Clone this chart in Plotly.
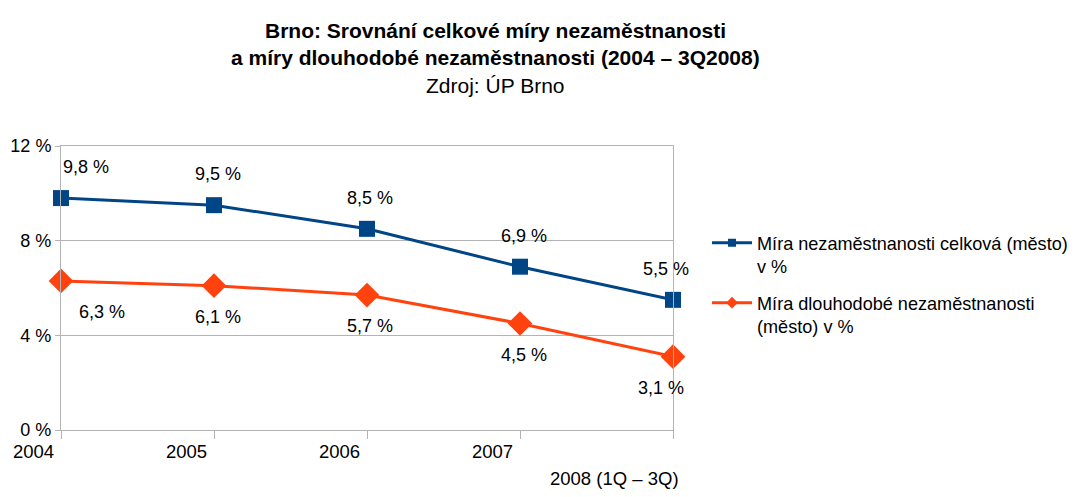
import plotly.graph_objects as go

# data
years = [0, 1, 2, 3, 4]
tick_labels = ["2004", "2005", "2006", "2007", "2008 (1Q – 3Q)"]
celkova = [9.8, 9.5, 8.5, 6.9, 5.5]
dlouhodoba = [6.3, 6.1, 5.7, 4.5, 3.1]
y_ticks = [0, 4, 8, 12]

name_celk = "Míra nezaměstnanosti celková (město)<br>v %"
name_dlouh = "Míra dlouhodobé nezaměstnanosti<br>(město) v %"

blue = "#004586"
orange = "#ff420e"
grid = "#b3b3b3"
font = "Liberation Sans, Arial, sans-serif"

fig = go.Figure()

# the lines themselves
fig.add_trace(go.Scatter(
    x=years, y=celkova, mode="lines+markers", showlegend=False,
    line=dict(color=blue, width=3),
    marker=dict(symbol="square", size=16, color=blue),
    cliponaxis=False,
))
fig.add_trace(go.Scatter(
    x=years, y=dlouhodoba, mode="lines+markers", showlegend=False,
    line=dict(color=orange, width=3),
    marker=dict(symbol="diamond", size=19, color=orange),
    cliponaxis=False,
))
# legend entries with small symbols
fig.add_trace(go.Scatter(
    x=[None], y=[None], name=name_celk, mode="lines+markers",
    legendgroup="a",
    line=dict(color=blue, width=3),
    marker=dict(symbol="square", size=8, color=blue),
))
fig.add_trace(go.Scatter(
    x=[None], y=[None], name=name_dlouh, mode="lines+markers",
    legendgroup="b",
    line=dict(color=orange, width=3),
    marker=dict(symbol="diamond", size=9, color=orange),
))

def fmt(v):
    return f"{v:.1f}".replace(".", ",") + " %"

# data labels
shift_top = [25, 4, 3, 4, -7]
shift_bot = [41, 4, 3, 4, -12]
for i, (a, b) in enumerate(zip(celkova, dlouhodoba)):
    fig.add_annotation(x=years[i], y=a, text=fmt(a), showarrow=False,
                       xshift=shift_top[i], yshift=31,
                       font=dict(size=18, color="black", family=font))
    fig.add_annotation(x=years[i], y=b, text=fmt(b), showarrow=False,
                       xshift=shift_bot[i], yshift=-31,
                       font=dict(size=18, color="black", family=font))

# x tick labels (last one staggered, as in the source chart)
lbl_dx = [-28, -28, -28, -28, -59]
lbl_y = [-0.12, -0.12, -0.12, -0.12, -0.215]
for i, t in enumerate(tick_labels):
    fig.add_annotation(x=years[i], y=lbl_y[i], yref="paper", text=t,
                       showarrow=False, xshift=lbl_dx[i],
                       font=dict(size=18.5, color="black", family=font))

# title
tx = 0.7105
for txt, ty in [("<b>Brno: Srovnání celkové míry nezaměstnanosti</b>", 1.454),
                ("<b>a míry dlouhodobé nezaměstnanosti (2004 – 3Q2008)</b>", 1.358),
                ("Zdroj: ÚP Brno", 1.262)]:
    fig.add_annotation(x=tx, xref="paper", xanchor="center",
                       y=ty, yref="paper", showarrow=False, text=txt,
                       font=dict(size=21, color="black", family=font))

fig.update_xaxes(
    range=[0, 4], tickvals=years, showticklabels=False,
    showgrid=False, zeroline=False, automargin=False,
    showline=True, linecolor=grid, linewidth=1, mirror=True,
    ticks="outside", ticklen=8, tickcolor=grid,
)
fig.update_yaxes(
    range=[0, 12], tickvals=y_ticks, ticktext=[f"{v} %" for v in y_ticks],
    showgrid=True, gridcolor=grid, gridwidth=1, zeroline=False,
    automargin=False,
    showline=True, linecolor=grid, linewidth=1, mirror=True,
    ticks="outside", ticklen=5, tickcolor=grid,
    tickfont=dict(size=18, color="black", family=font),
)

# page body has an 8px margin; figure is a bit wider than the window so the
# legend has room and does not push the plot area
fig.update_layout(
    width=1090, height=489,
    margin=dict(l=53, r=425, t=138, b=67),
    paper_bgcolor="white", plot_bgcolor="white",
    font=dict(family=font, size=18, color="black"),
    showlegend=True,
    legend=dict(x=1.0556, y=0.724, xanchor="left", yanchor="top",
                valign="top",
                font=dict(size=18.1, color="black", family=font),
                tracegroupgap=10, itemwidth=40),
)

fig.write_html("out.html")
